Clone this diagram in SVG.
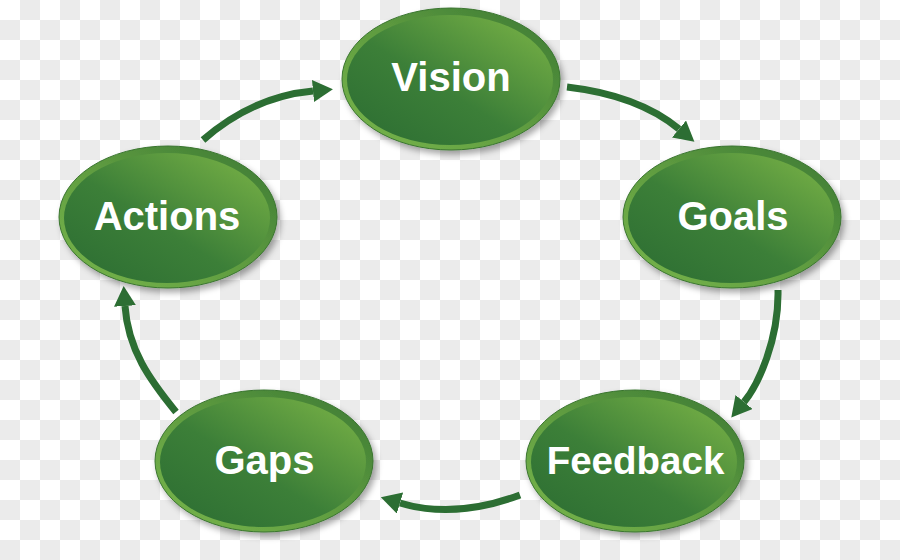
<svg xmlns="http://www.w3.org/2000/svg" width="900" height="560" viewBox="0 0 900 560">
  <defs>
    <pattern id="checker" x="0" y="0" width="40" height="40" patternUnits="userSpaceOnUse">
      <rect x="0" y="0" width="40" height="40" fill="#ffffff"/>
      <rect x="20" y="0" width="20" height="20" fill="#ebebeb"/>
      <rect x="0" y="20" width="20" height="20" fill="#ebebeb"/>
    </pattern>
    <linearGradient id="fillGrad" x1="0" y1="1" x2="1" y2="0">
      <stop offset="0" stop-color="#2b6c32"/>
      <stop offset="0.45" stop-color="#3c7f38"/>
      <stop offset="1" stop-color="#7db647"/>
    </linearGradient>
    <linearGradient id="rimGrad" x1="0" y1="1" x2="1" y2="0">
      <stop offset="0" stop-color="#78b64b"/>
      <stop offset="0.5" stop-color="#5f9c40"/>
      <stop offset="1" stop-color="#3a7833"/>
    </linearGradient>
    <filter id="shadow" x="-20%" y="-20%" width="140%" height="150%">
      <feDropShadow dx="3" dy="4" stdDeviation="3" flood-color="#000000" flood-opacity="0.35"/>
    </filter>
    <marker id="head" viewBox="0 0 20 22" refX="0" refY="11" markerWidth="20" markerHeight="22" markerUnits="userSpaceOnUse" orient="auto">
      <path d="M0,0 L20,11 L0,22 Z" fill="#2c6e33"/>
    </marker>
    <style>
      .rim { fill: url(#rimGrad); stroke: #3a7530; stroke-width: 1; }
      .core { fill: url(#fillGrad); }
      .label { font-family: "Liberation Sans", Arial, sans-serif; font-weight: bold; font-size: 40px; fill: #ffffff; text-anchor: middle; }
      .arrow { fill: none; stroke: #2c6e33; stroke-width: 7; marker-end: url(#head); }
    </style>
  </defs>

  <rect x="0" y="0" width="900" height="560" fill="url(#checker)"/>

  <g id="connectors">
    <path class="arrow" d="M203,140 C235,112 270,95 313,91"/>
    <path class="arrow" d="M567,87 C610,92 650,105 679,129"/>
    <path class="arrow" d="M778,290 C779,340 758,385 744,402"/>
    <path class="arrow" d="M520,495 C480,510 440,515 400,503"/>
    <path class="arrow" d="M176,412 C150,380 128,350 125,306"/>
  </g>

  <g id="vision">
    <ellipse class="rim" cx="451" cy="79" rx="109" ry="71" filter="url(#shadow)"/>
    <ellipse class="core" cx="450" cy="80" rx="103" ry="65"/>
    <text class="label" x="451" y="91">Vision</text>
  </g>

  <g id="goals">
    <ellipse class="rim" cx="732" cy="217" rx="109" ry="71" filter="url(#shadow)"/>
    <ellipse class="core" cx="731" cy="218" rx="103" ry="65"/>
    <text class="label" x="733" y="230">Goals</text>
  </g>

  <g id="actions">
    <ellipse class="rim" cx="168" cy="217" rx="109" ry="71" filter="url(#shadow)"/>
    <ellipse class="core" cx="167" cy="218" rx="103" ry="65"/>
    <text class="label" x="167" y="230">Actions</text>
  </g>

  <g id="feedback">
    <ellipse class="rim" cx="635" cy="461" rx="109" ry="71" filter="url(#shadow)"/>
    <ellipse class="core" cx="634" cy="462" rx="103" ry="65"/>
    <text class="label" x="635.5" y="474" style="font-size:38.5px">Feedback</text>
  </g>

  <g id="gaps">
    <ellipse class="rim" cx="264" cy="461" rx="109" ry="71" filter="url(#shadow)"/>
    <ellipse class="core" cx="263" cy="462" rx="103" ry="65"/>
    <text class="label" x="264.5" y="474">Gaps</text>
  </g>
</svg>
